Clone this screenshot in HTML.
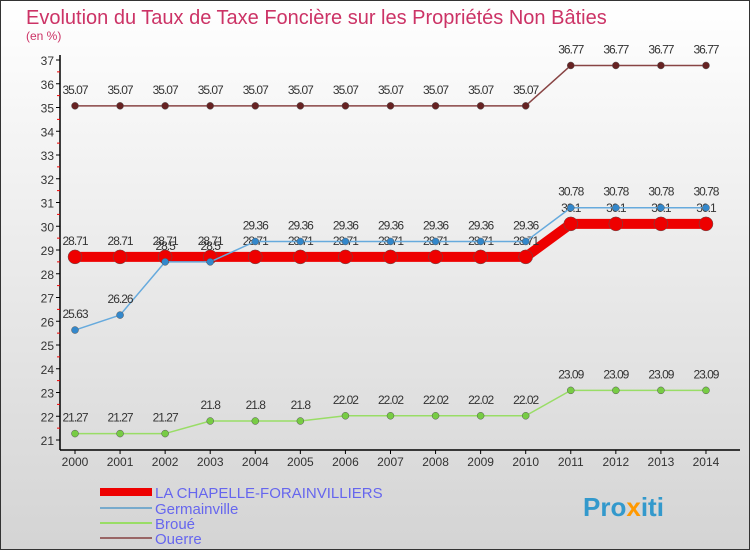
<!DOCTYPE html>
<html><head><meta charset="utf-8"><style>
body{margin:0;width:750px;height:550px;overflow:hidden;font-family:"Liberation Sans",sans-serif}
svg text{font-family:"Liberation Sans",sans-serif}
</style></head><body>
<svg id="c" width="750" height="550" xmlns="http://www.w3.org/2000/svg">
<defs><linearGradient id="bg" x1="0" y1="0" x2="0" y2="1"><stop offset="0" stop-color="#ffffff"/><stop offset="1" stop-color="#d4d4d4"/></linearGradient></defs>
<rect x="0.5" y="0.5" width="749" height="549" fill="url(#bg)" stroke="#333"/>
<text x="26" y="24" font-size="20" fill="#cc3366">Evolution du Taux de Taxe Foncière sur les Propriétés Non Bâties</text>
<text x="26" y="40" font-size="12" fill="#cc3366">(en %)</text>
<g id="axes"></g><g id="series"></g>
<g>
<rect x="100" y="488" width="52" height="8" fill="#ee0000"/>
<text x="155" y="498" font-size="15" fill="#6666ee">LA CHAPELLE-FORAINVILLIERS</text>
<line x1="100" y1="508" x2="152" y2="508" stroke="#77aacc" stroke-width="2"/>
<text x="155" y="514" font-size="15" fill="#6666ee">Germainville</text>
<line x1="100" y1="523" x2="152" y2="523" stroke="#99dd66" stroke-width="2"/>
<text x="155" y="529" font-size="15" fill="#6666ee">Broué</text>
<line x1="100" y1="538" x2="152" y2="538" stroke="#996666" stroke-width="2"/>
<text x="155" y="544" font-size="15" fill="#6666ee">Ouerre</text>
</g>
<text x="583" y="516" font-size="26" font-weight="bold" fill="#3399cc">Pro<tspan fill="#ff9900">x</tspan>iti</text>
</svg>
<script>
const years=[2000,2001,2002,2003,2004,2005,2006,2007,2008,2009,2010,2011,2012,2013,2014];
const chapelle=[28.71,28.71,28.71,28.71,28.71,28.71,28.71,28.71,28.71,28.71,28.71,30.1,30.1,30.1,30.1];
const germainville=[25.63,26.26,28.5,28.5,29.36,29.36,29.36,29.36,29.36,29.36,29.36,30.78,30.78,30.78,30.78];
const broue=[21.27,21.27,21.27,21.8,21.8,21.8,22.02,22.02,22.02,22.02,22.02,23.09,23.09,23.09,23.09];
const ouerre=[35.07,35.07,35.07,35.07,35.07,35.07,35.07,35.07,35.07,35.07,35.07,36.77,36.77,36.77,36.77];
const yTicks=[21,22,23,24,25,26,27,28,29,30,31,32,33,34,35,36,37];
const NS="http://www.w3.org/2000/svg";
const X=i=>75+i*45.07, Y=v=>440-(v-21)*23.75;
function mk(p,t,a){const e=document.createElementNS(NS,t);for(const k in a)e.setAttribute(k,a[k]);p.appendChild(e);return e;}
const ax=document.getElementById('axes');
let l=mk(ax,'line',{x1:60,y1:55,x2:60,y2:450,stroke:'#000','stroke-width':1.5});


l=mk(ax,'line',{x1:60,y1:450,x2:740,y2:450,stroke:'#000','stroke-width':1.5});


yTicks.forEach(v=>{mk(ax,'line',{x1:56,y1:Y(v),x2:60,y2:Y(v),stroke:'#000'});
if(v<37)mk(ax,'line',{x1:57,y1:Y(v+0.5),x2:60,y2:Y(v+0.5),stroke:'#ee0000'});
const t=mk(ax,'text',{x:54,y:Y(v)+5,'font-size':12,fill:'#333','text-anchor':'end'});t.textContent=v;

});
years.forEach((y,i)=>{mk(ax,'line',{x1:X(i),y1:450,x2:X(i),y2:454,stroke:'#000'});
const t=mk(ax,'text',{x:X(i),y:466,'font-size':12,fill:'#333','text-anchor':'middle'});t.textContent=y;

});
const sg=document.getElementById('series');
function series(name,vals,col,w,r,dot,lab){
const g=mk(sg,'g',{});


const p=mk(g,'polyline',{points:vals.map((v,i)=>X(i)+','+Y(v)).join(' '),fill:'none',stroke:col,'stroke-width':w,'stroke-linejoin':'round'});


vals.forEach((v,i)=>{const c=mk(g,'circle',{cx:X(i),cy:Y(v),r:r,fill:dot,stroke:'#555','stroke-width':0.5});


const t=mk(g,'text',{x:X(i),y:Y(v)-12,'font-size':12,fill:'#333','text-anchor':'middle','letter-spacing':'-1'});t.textContent=v;

});}
series('ouerre',ouerre,'#884444',1.5,3.5,'#662222');
series('broue',broue,'#99dd66',1.5,3.5,'#77cc44');
series('chapelle',chapelle,'#ee0000',10,7,'#ee0000');
series('germainville',germainville,'#66aadd',1.5,3.5,'#3388cc');
</script>
</body></html>
